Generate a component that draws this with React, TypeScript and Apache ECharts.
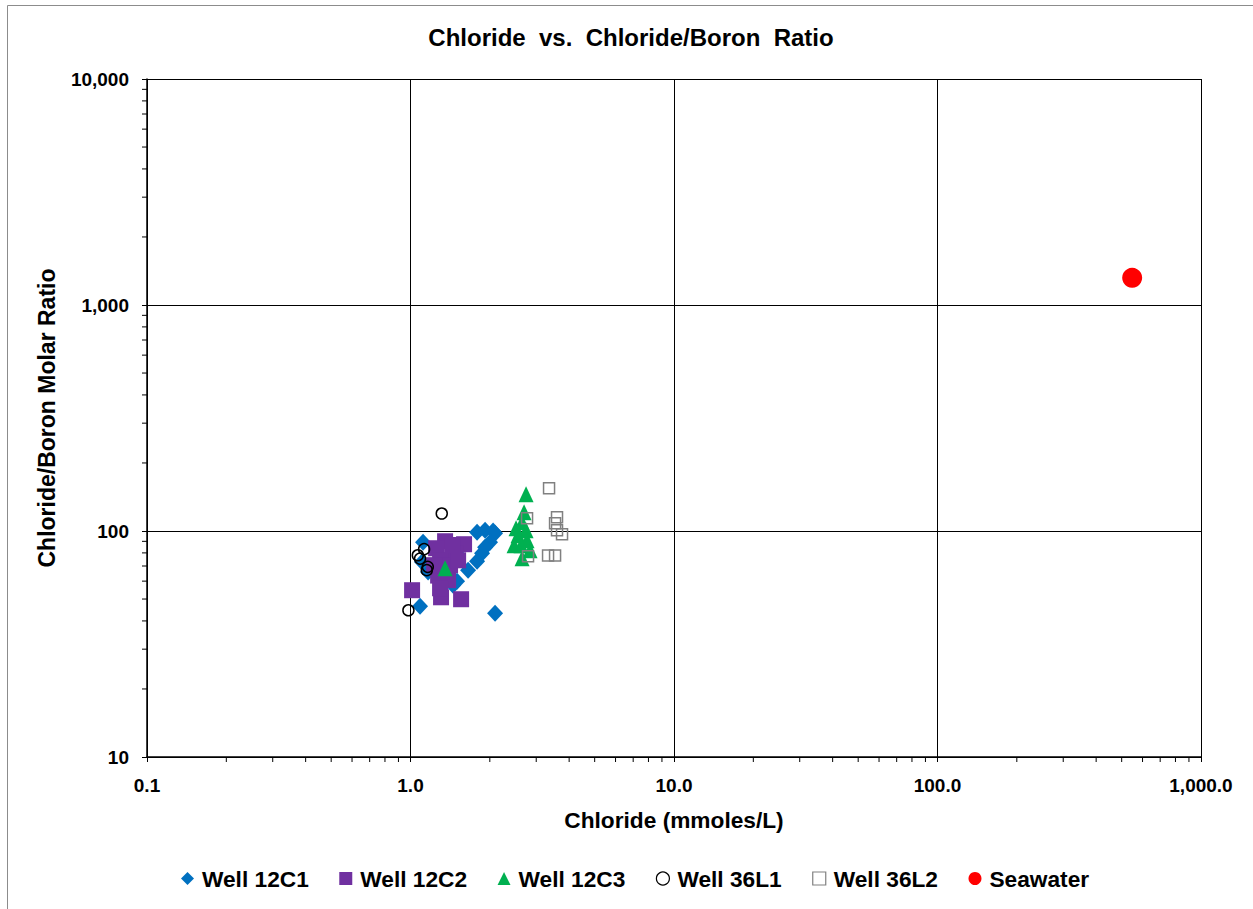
import React, { useEffect, useRef } from "react";
import * as echarts from "echarts";

// Chloride (mmoles/L), Chloride/Boron molar ratio
const well12C1: number[][] = [
  [1.116, 89.2], [1.087, 46.5], [1.789, 98.8], [1.919, 100.8], [2.058, 99.9],
  [2.094, 97.8], [2.004, 89.2], [1.919, 84.8], [1.869, 79.7], [1.789, 73.5],
  [1.654, 67.1], [1.502, 59.9], [1.451, 57.5], [2.094, 43.3], [1.106, 72.9],
  [1.166, 65.8], [1.353, 74.2], [1.542, 84.0],
];
const well12C2: number[][] = [
  [1.014, 54.7], [1.306, 50.9], [1.556, 49.9], [1.353, 90.1], [1.597, 87.4],
  [1.251, 83.9], [1.476, 79.7], [1.295, 74.2], [1.413, 70.6], [1.273, 63.5],
  [1.389, 60.6], [1.295, 55.8], [1.516, 74.2], [1.438, 86.7], [1.229, 70.6],
];
const well12C3: number[][] = [
  [2.745, 145.5], [2.698, 121.1], [2.651, 109.4], [2.745, 100.8], [2.559, 95.8],
  [2.769, 91.0], [2.472, 86.5], [2.628, 86.5], [2.842, 82.2], [2.651, 75.8],
  [2.515, 102.9], [1.353, 68.4],
];
const well36L1: number[][] = [
  [1.314, 119.5], [1.126, 83.1], [1.066, 78.1], [1.087, 75.5], [1.163, 69.4],
  [1.153, 67.1], [0.982, 44.6],
];
const well36L2: number[][] = [
  [3.356, 154.7], [2.769, 113.9], [3.598, 115.1], [3.537, 108.3], [3.598, 100.8],
  [3.759, 96.8], [2.793, 77.4], [3.327, 77.9], [3.537, 77.9],
];
const seawater: number[][] = [[548, 1319]];

// minor tick positions (log axes)
const xMinorTicks = [
  0.2, 0.3, 0.4, 0.5, 0.6, 0.7, 0.8, 0.9,
  2, 3, 4, 5, 6, 7, 8, 9,
  20, 30, 40, 50, 60, 70, 80, 90,
  200, 300, 400, 500, 600, 700, 800, 900,
];
const yMinorTicks = [
  20, 30, 40, 50, 60, 70, 80, 90,
  200, 300, 400, 500, 600, 700, 800, 900,
  2000, 3000, 4000, 5000, 6000, 7000, 8000, 9000,
];

const FONT = "Liberation Sans";

function fmtX(v: number): string {
  const r = Math.round(v * 10) / 10;
  return r.toLocaleString("en-US", { minimumFractionDigits: 1, maximumFractionDigits: 1 });
}
function fmtY(v: number): string {
  return Math.round(v).toLocaleString("en-US");
}

export default function App() {
  const ref = useRef<HTMLDivElement>(null);
  useEffect(() => {
    if (!ref.current) return;
    const chart = echarts.init(ref.current, undefined, { renderer: "svg" });
    const openStyle = (c: string) => ({ color: "rgba(0,0,0,0)", borderColor: c, borderWidth: 1.5, opacity: 1 });
    chart.setOption({
      animation: false,
      backgroundColor: "#fff",
      textStyle: { fontFamily: FONT },
      title: {
        text: "Chloride  vs.  Chloride/Boron  Ratio",
        left: 631,
        textAlign: "center",
        top: 25,
        padding: 0,
        textStyle: { fontFamily: FONT, fontWeight: "bold", fontSize: 24, color: "#000" },
      },
      graphic: [
        {
          type: "rect",
          shape: { x: 7.5, y: 5.5, width: 1300, height: 1000 },
          style: { fill: "none", stroke: "#8c8c8c", lineWidth: 1 },
          silent: true,
          z: -10,
        },
      ],
      grid: { left: 147, right: 52, top: 79, bottom: 152 },
      legend: {
        data: [
          { name: "Well 12C1" },
          { name: "Well 12C2" },
          { name: "Well 12C3" },
          { name: "Well 36L1", itemStyle: { borderWidth: 1.2 } },
          { name: "Well 36L2", itemStyle: { borderWidth: 1.2 } },
          { name: "Seawater" },
        ],
        top: 867,
        left: 181,
        padding: 0,
        itemWidth: 13,
        itemHeight: 13,
        itemGap: 30.5,
        textStyle: { fontFamily: FONT, fontWeight: "bold", fontSize: 22.7, color: "#000", padding: [0, 0, 0, 3] },
      },
      xAxis: {
        type: "log",
        logBase: 10,
        min: 0.1,
        max: 1000,
        splitNumber: 4,
        name: "Chloride (mmoles/L)",
        nameLocation: "middle",
        nameGap: 51,
        nameTextStyle: { fontFamily: FONT, fontWeight: "bold", fontSize: 22.7, color: "#000" },
        axisLine: { show: true, lineStyle: { color: "#000", width: 1.5 } },
        axisTick: { show: true, inside: false, length: 5, lineStyle: { color: "#000", width: 1 } },
        axisLabel: {
          formatter: fmtX,
          margin: 19,
          fontFamily: FONT,
          fontWeight: "bold",
          fontSize: 19,
          color: "#000",
        },
        splitLine: { show: true, lineStyle: { color: "#000", width: 1 } },
      },
      yAxis: {
        type: "log",
        logBase: 10,
        min: 10,
        max: 10000,
        splitNumber: 3,
        name: "Chloride/Boron Molar Ratio",
        nameLocation: "middle",
        nameRotate: 90,
        nameGap: 89,
        nameTextStyle: { fontFamily: FONT, fontWeight: "bold", fontSize: 23, color: "#000" },
        axisLine: { show: true, lineStyle: { color: "#000", width: 1.5 } },
        axisTick: { show: true, inside: false, length: 5, lineStyle: { color: "#000", width: 1 } },
        axisLabel: {
          formatter: fmtY,
          margin: 18,
          fontFamily: FONT,
          fontWeight: "bold",
          fontSize: 19,
          color: "#000",
        },
        splitLine: { show: true, lineStyle: { color: "#000", width: 1 } },
      },
      series: [
        {
          name: "Well 12C1",
          type: "scatter",
          symbol: "diamond",
          symbolSize: [16, 17],
          itemStyle: { color: "#0070C0", opacity: 1 },
          data: well12C1,
        },
        {
          name: "Well 12C2",
          type: "scatter",
          symbol: "rect",
          symbolSize: 16,
          itemStyle: { color: "#7030A0", opacity: 1 },
          data: well12C2,
        },
        {
          name: "Well 12C3",
          type: "scatter",
          symbol: "triangle",
          symbolSize: [15, 16],
          itemStyle: { color: "#00B050", opacity: 1 },
          data: well12C3,
        },
        {
          name: "Well 36L1",
          type: "scatter",
          symbol: "circle",
          symbolSize: 11,
          itemStyle: openStyle("#000"),
          data: well36L1,
        },
        {
          name: "Well 36L2",
          type: "scatter",
          symbol: "rect",
          symbolSize: 11,
          itemStyle: openStyle("#808080"),
          data: well36L2,
        },
        {
          name: "Seawater",
          type: "scatter",
          symbol: "circle",
          symbolSize: 20,
          itemStyle: { color: "#FF0000", opacity: 1 },
          data: seawater,
        },
        {
          name: "xMinor",
          type: "custom",
          silent: true,
          clip: false,
          data: xMinorTicks.map((v) => [v, 10]),
          renderItem: (params: any, api: any) => {
            const p = api.coord([api.value(0), 10]);
            return {
              type: "line",
              shape: { x1: p[0], y1: p[1], x2: p[0], y2: p[1] + 5 },
              style: { stroke: "#000", lineWidth: 1 },
            };
          },
        },
        {
          name: "yMinor",
          type: "custom",
          silent: true,
          clip: false,
          data: yMinorTicks.map((v) => [0.1, v]),
          renderItem: (params: any, api: any) => {
            const p = api.coord([0.1, api.value(1)]);
            return {
              type: "line",
              shape: { x1: p[0] - 5, y1: p[1], x2: p[0], y2: p[1] },
              style: { stroke: "#000", lineWidth: 1 },
            };
          },
        },
      ],
    });
    return () => chart.dispose();
  }, []);
  return (
    <div
      ref={ref}
      style={{ position: "absolute", left: 0, top: 0, width: 1253, height: 909 }}
    />
  );
}
